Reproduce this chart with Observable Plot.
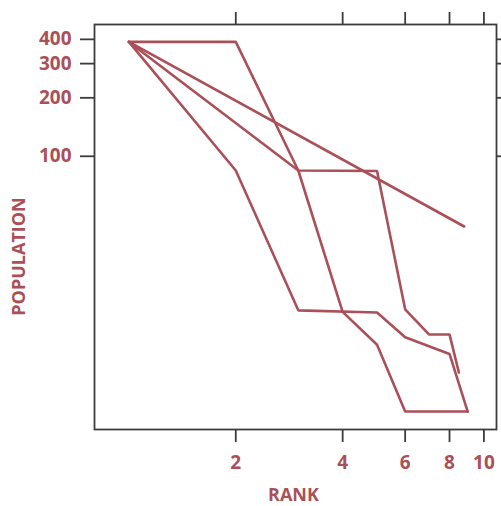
<!DOCTYPE html>
<html>
<head>
<meta charset="utf-8">
<script src="https://cdn.jsdelivr.net/npm/d3@7"></script>
<script src="https://cdn.jsdelivr.net/npm/@observablehq/plot@0.6"></script>
<style>
  html, body { margin: 0; padding: 0; background: #fff; }
  #chart svg { display: block; }
</style>
</head>
<body>
<div id="chart"></div>
<script>
// ---- data ----
const xTicks = [2, 4, 6, 8, 10];
const yTicks = [100, 200, 300, 400];
const seriesNames = ["Zipf", "A", "B", "C"];

const zipfRank = [1, 8.8];
const zipfPop  = [388, 43.5];

const aRank = [1, 2, 3, 5, 6, 7, 8, 8.5];
const aPop  = [388, 388, 84.5, 84, 16.3, 12.1, 12.1, 7.7];

const bRank = [1, 3, 4, 5, 6, 9];
const bPop  = [388, 84.5, 15.8, 10.7, 4.85, 4.85];

const cRank = [1, 2, 3, 5, 6, 8, 9];
const cPop  = [388, 84.5, 16.1, 15.7, 11.7, 9.6, 4.85];

const ranks = [zipfRank, aRank, bRank, cRank];
const pops = [zipfPop, aPop, bPop, cPop];

const rows = [];
seriesNames.forEach((s, i) => {
  ranks[i].forEach((r, j) => rows.push({series: s, rank: r, pop: pops[i][j]}));
});

const red = "#aa5058";
const dark = "#3c3c3c";
const font = "'Open Sans', 'DejaVu Sans', sans-serif";

const chart = Plot.plot({
  width: 501,
  height: 506,
  marginLeft: 94,
  marginRight: 5,
  marginTop: 24,
  marginBottom: 77,
  style: {fontFamily: font, fontSize: "19px", fontWeight: "bold", background: "#fff", overflow: "visible"},
  x: {type: "log", domain: [0.8, 10.85]},
  y: {type: "log", domain: [3.92, 477]},
  marks: [
    Plot.frame({stroke: dark, strokeWidth: 1.8}),
    Plot.axisX({anchor: "bottom", ticks: xTicks, tickSize: 13, tickPadding: 13,
      tickFormat: d => String(d), stroke: dark, strokeWidth: 1.8, fill: red,
      fontSize: 19, fontWeight: "bold", label: null}),
    Plot.axisX({anchor: "top", ticks: xTicks, tickSize: 13,
      tickFormat: () => "", stroke: dark, strokeWidth: 1.8, label: null}),
    Plot.axisY({anchor: "left", ticks: yTicks, tickSize: 14, tickPadding: 9,
      tickFormat: d => String(d), stroke: dark, strokeWidth: 1.8, fill: red,
      fontSize: 19, fontWeight: "bold", label: null}),
    Plot.axisY({anchor: "right", ticks: yTicks, tickSize: 13,
      tickFormat: () => "", stroke: dark, strokeWidth: 1.8, label: null}),
    Plot.line(rows, {x: "rank", y: "pop", z: "series", stroke: red, strokeWidth: 2.6,
      strokeLinejoin: "miter", curve: "linear"}),
    Plot.text(["RANK"], {frameAnchor: "bottom", dx: -2, dy: 66, text: d => d,
      fill: red, fontSize: 18, fontWeight: "bold", lineAnchor: "middle", textAnchor: "middle"}),
    Plot.text(["POPULATION"], {frameAnchor: "left", dx: -75, dy: 29.5, rotate: -90, text: d => d,
      fill: red, fontSize: 18, fontWeight: "bold", lineAnchor: "middle", textAnchor: "middle"})
  ]
});
document.getElementById("chart").appendChild(chart);
</script>
</body>
</html>
